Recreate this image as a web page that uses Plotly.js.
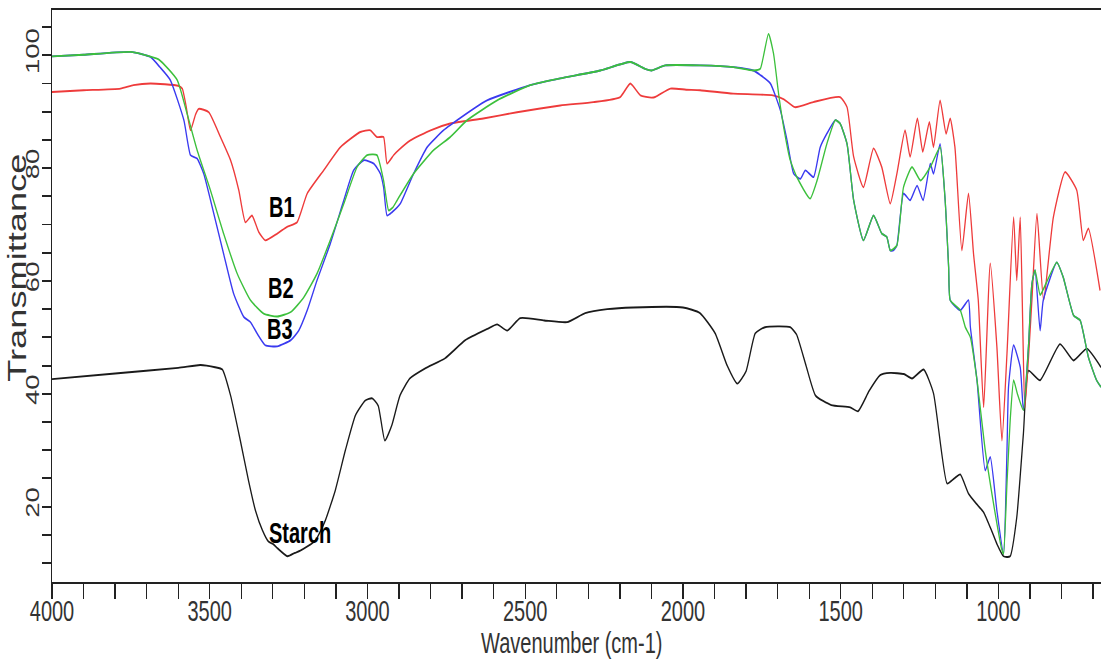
<!DOCTYPE html>
<html>
<head>
<meta charset="utf-8">
<script src="https://cdn.plot.ly/plotly-3.0.1.min.js"></script>
<style>
html{margin:0;padding:0;background:#fff;overflow:hidden;}
body{margin:0;padding:0;background:#fff;width:1101px;height:662px;}
#chart{width:1101px;height:457px;transform:scaleY(1.4486);transform-origin:0 0;}
</style>
</head>
<body>
<div id="chart"></div>
<script>
// Starch (black)
const starchWn = [4000,3800,3600,3530,3510,3483,3460,3434,3403,3377,3355,3333,3314,3300,3285,3254,3230,3213,3165,3134,3102,3070,3038,3007,2985,2966,2945,2923,2897,2866,2817,2754,2690,2620,2589,2557,2516,2440,2367,2310,2240,2158,2000,1946,1898,1860,1828,1800,1771,1740,1660,1640,1610,1580,1530,1470,1445,1410,1375,1343,1300,1274,1237,1206,1163,1140,1121,1095,1070,1047,1020,1005,984,963,942,921,905,868,805,762,720,675];
const starchT  = [42.6,43.6,44.6,45.1,45.0,44.7,44.3,39.7,31.7,24.6,19.3,15.8,13.8,13.4,12.6,11.2,11.8,12.2,14.0,17.5,22.9,30.0,36.2,38.8,39.2,37.9,31.7,34.4,39.7,42.7,44.5,46.3,49.5,51.5,52.3,51.2,53.4,53.0,52.7,54.3,55.0,55.3,55.3,54.3,50.7,45.0,41.8,44.0,50.7,51.8,51.8,50.5,45.0,39.7,38.0,37.6,36.9,40.5,43.3,43.7,43.5,42.7,44.3,40.1,24.1,25.0,25.7,22.3,20.5,19.0,15.5,13.4,11.2,11.2,18.1,32.9,44.1,42.4,48.8,45.9,48.0,44.7];

// B1 (red)
const b1Wn = [4000,3900,3783,3742,3688,3600,3587,3575,3561,3545,3535,3503,3466,3434,3408,3387,3366,3345,3324,3286,3255,3223,3191,3139,3086,3023,2991,2970,2949,2938,2917,2901,2864,2800,2738,2633,2526,2389,2284,2199,2167,2135,2100,2088,2040,1990,1946,1841,1715,1680,1645,1587,1502,1480,1459,1428,1396,1370,1343,1322,1296,1280,1257,1240,1219,1206,1185,1166,1153,1138,1116,1095,1079,1064,1047,1026,1005,989,973,952,942,931,916,894,878,857,826,789,752,731,715,678];
const b1T  = [93.5,93.8,94.1,94.7,95.0,94.6,94.1,91.0,86.7,89.5,90.5,89.9,85.5,81.4,76.1,70.4,71.6,68.7,67.2,68.4,69.6,70.4,75.5,79.6,83.7,86.4,86.7,85.5,85.5,80.8,82.3,83.2,84.9,86.7,87.9,88.8,89.9,91.1,91.7,92.6,95.0,92.9,92.5,92.6,94.1,93.9,93.8,93.2,92.9,92.2,90.8,91.7,92.6,90.8,82.0,76.6,83.5,80.2,73.7,79.0,86.7,82.0,88.8,82.9,88.2,83.7,92.0,86.1,88.8,83.7,65.4,75.5,64.8,56.6,37.6,63.1,48.3,31.7,47.1,71.3,60.1,71.3,37.6,56.6,71.9,56.6,71.3,79.3,76.1,67.2,69.3,58.3];

// B2 (green)
const b2Wn = [4000,3900,3750,3690,3660,3603,3572,3540,3498,3456,3413,3371,3329,3286,3243,3202,3160,3118,3075,3033,3001,2970,2949,2933,2920,2906,2854,2790,2738,2684,2589,2484,2389,2262,2167,2120,2100,2056,1945,1840,1777,1755,1729,1713,1697,1681,1660,1639,1597,1575,1544,1517,1502,1480,1459,1428,1396,1370,1354,1343,1322,1301,1274,1247,1216,1185,1169,1158,1153,1121,1105,1089,1068,1042,1020,1005,990,984,973,962,952,940,921,905,894,884,868,858,815,795,762,741,715,689,675];
const b2T  = [99.8,100.1,100.6,99.8,99.2,95.6,89.7,83.2,76.1,68.4,61.3,56.6,54.2,53.7,54.5,57.1,61.3,67.2,73.7,80.2,82.3,82.3,77.8,72.5,73.0,74.3,79.0,83.2,85.5,88.5,92.0,94.7,95.9,97.3,98.8,97.6,97.3,98.2,98.2,97.9,97.3,97.6,103.8,100.3,93.2,87.3,81.4,78.4,74.6,77.8,84.3,88.5,87.9,84.3,74.3,67.2,71.6,68.4,67.8,65.4,66.3,76.6,80.2,77.8,80.2,83.7,74.3,62.5,56.6,54.8,51.8,50.0,42.4,30.0,22.0,17.0,12.5,11.6,24.1,36.0,42.4,40.0,37.1,48.3,59.5,61.9,57.5,58.5,63.3,60.7,53.9,53.0,46.5,42.4,41.2];

// B3 (blue)
const b3Wn = [4000,3900,3750,3688,3658,3625,3582,3561,3540,3519,3487,3456,3424,3392,3371,3350,3324,3286,3243,3218,3191,3160,3118,3075,3044,3012,2980,2959,2949,2938,2922,2896,2854,2811,2759,2738,2621,2484,2389,2262,2167,2120,2100,2056,1945,1840,1777,1755,1723,1691,1670,1649,1628,1612,1586,1565,1544,1517,1502,1480,1459,1428,1396,1370,1354,1343,1333,1322,1301,1280,1258,1239,1216,1206,1185,1169,1158,1153,1121,1095,1089,1068,1042,1026,1005,984,973,968,952,931,921,905,894,884,868,858,815,795,762,741,715,689,675];
const b3T  = [99.8,100.1,100.6,99.7,97.9,95.6,88.5,82.3,81.7,79.0,71.9,64.8,57.7,53.6,52.7,50.7,48.6,48.4,49.5,51.2,54.8,60.1,66.6,74.3,79.6,81.4,80.8,79.0,76.6,71.6,72.2,73.7,79.0,83.7,86.7,87.6,92.0,94.7,95.9,97.3,98.8,97.6,97.3,98.2,98.2,97.9,97.3,96.5,95.0,90.2,84.9,79.0,78.1,79.6,78.4,83.7,86.1,88.5,87.9,84.3,74.3,67.2,71.6,68.4,67.8,65.4,65.4,66.3,75.5,74.3,76.9,74.3,80.8,79.0,84.3,74.3,62.5,56.6,54.8,56.6,51.8,42.4,26.4,28.8,19.3,11.6,30.0,41.3,48.6,44.7,37.1,48.3,59.5,61.9,51.2,56.6,63.3,60.7,53.9,53.0,46.5,42.4,41.2];

const seriesNames = ['Starch','B1','B3','B2'];
const seriesColors = ['#1a1a1a','#ee3b3b','#3a3af0','#3cc03c'];

const traces = [
  {x: starchWn, y: starchT},
  {x: b1Wn, y: b1T},
  {x: b3Wn, y: b3T},
  {x: b2Wn, y: b2T}
].map((d, i) => ({
  x: d.x, y: d.y, type: 'scatter', mode: 'lines', name: seriesNames[i],
  line: {color: seriesColors[i], width: 1.3, shape: 'spline', smoothing: 0.5}, hoverinfo: 'x+y'
}));

const labelFont = {family: 'Liberation Sans, Arial, sans-serif', size: 20, color: '#000'};
const layout = {
  width: 1101, height: 457,
  margin: {l: 51.5, r: 0, t: 6.9, b: 55.4, pad: 0},
  paper_bgcolor: '#fff', plot_bgcolor: '#fff',
  showlegend: false,
  font: {family: 'Liberation Sans, Arial, sans-serif', color: '#333'},
  xaxis: {
    range: [4000, 675], tick0: 0, dtick: 500,
    showgrid: false, zeroline: false,
    showline: true, linecolor: '#222', linewidth: 1.3, mirror: true,
    ticks: 'outside', ticklen: 10.35, tickwidth: 1.3, tickcolor: '#222',
    ticklabelstandoff: -9,
    tickfont: {size: 20, color: '#333'},
    minor: {dtick: 100, ticks: 'outside', ticklen: 10.35, tickwidth: 1.3, tickcolor: '#222', showgrid: false}
  },
  yaxis: {
    range: [6.58, 108], tick0: 0, dtick: 20,
    showgrid: false, zeroline: false,
    showline: true, linecolor: '#222', linewidth: 1.3,
    ticks: 'outside', ticklen: 9, tickwidth: 1.3, tickcolor: '#222',
    tickangle: -90,
    ticklabelstandoff: -5,
    tickfont: {size: 19, color: '#333'},
    minor: {dtick: 5, ticks: 'outside', ticklen: 9, tickwidth: 1.3, tickcolor: '#222', showgrid: false}
  },
  annotations: [
    {xref: 'paper', yref: 'paper', x: 0.496, y: -0.1054, text: 'Wavenumber (cm-1)', showarrow: false,
     xanchor: 'center', yanchor: 'middle', font: {size: 20, color: '#333'}},
    {xref: 'paper', yref: 'paper', x: -0.033, y: 0.549, text: 'Transmittance', showarrow: false,
     textangle: -90, xanchor: 'center', yanchor: 'middle', font: {size: 25, color: '#333'}},
    {x: 3271, y: 73.1, text: '<b>B1</b>', showarrow: false, font: labelFont},
    {x: 3273, y: 58.7, text: '<b>B2</b>', showarrow: false, font: labelFont},
    {x: 3276, y: 51.6, text: '<b>B3</b>', showarrow: false, font: labelFont},
    {x: 3213, y: 15.25, text: '<b>Starch</b>', showarrow: false, font: labelFont}
  ]
};

Plotly.newPlot('chart', traces, layout, {displayModeBar: false, staticPlot: true});
</script>
</body>
</html>
